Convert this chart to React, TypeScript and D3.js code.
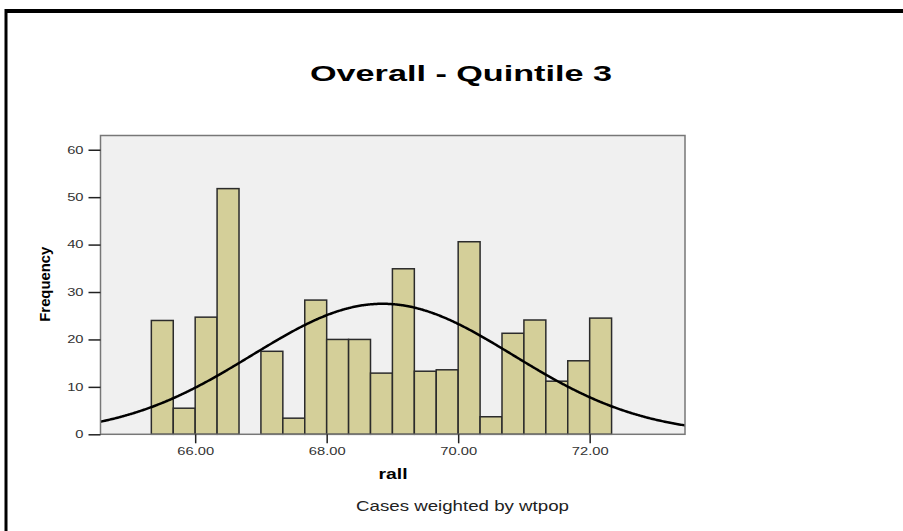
import React, { useEffect, useRef } from 'react';
import * as d3 from 'd3';

// histogram counts, one per bin of width 1/3 starting at 65.33
const frequencies = [24.0, 5.5, 24.7, 51.8, 0, 17.5, 3.4, 28.3, 20.0, 20.0, 12.9, 34.9, 13.3, 13.6, 40.6, 3.7, 21.3, 24.1, 11.2, 15.5, 24.5];
const firstBin = 65 + 1 / 3;
const binWidth = 1 / 3;
const xTicks = [66, 68, 70, 72];
const yTicks = [0, 10, 20, 30, 40, 50, 60];
// fitted normal curve
const curveMean = 68.85;
const curveSd = 1.985;

const App: React.FC = () => {
    const chartRef = useRef<SVGSVGElement>(null);

    useEffect(() => {
        const svg = d3.select(chartRef.current);
        svg.selectAll('*').remove();

        // plot area
        const left = 100.5;
        const right = 685;
        const top = 135.5;
        const bottom = 434.3;

        const xScale = d3.scaleLinear().domain([64.56, 73.45]).range([left, right]);
        const yScale = d3.scaleLinear().domain([0, 63]).range([bottom, top]);

        // outer frame (only top and left visible)
        svg.append('line').attr('x1', 5).attr('x2', 903).attr('y1', 11).attr('y2', 11)
            .attr('stroke', '#000').attr('stroke-width', 4);
        svg.append('line').attr('x1', 6).attr('x2', 6).attr('y1', 9).attr('y2', 531)
            .attr('stroke', '#000').attr('stroke-width', 3);

        // title
        svg.append('text')
            .attr('x', 461).attr('y', 81)
            .attr('text-anchor', 'middle')
            .attr('font-family', 'Liberation Sans, Arial, sans-serif')
            .attr('font-weight', 'bold')
            .attr('font-size', 22)
            .attr('textLength', 302)
            .attr('lengthAdjust', 'spacingAndGlyphs')
            .text('Overall - Quintile 3');

        svg.append('rect')
            .attr('x', left).attr('y', top)
            .attr('width', right - left).attr('height', bottom - top)
            .attr('fill', '#f0f0f0');

        svg.append('clipPath').attr('id', 'plotClip')
            .append('rect').attr('x', left).attr('y', top)
            .attr('width', right - left).attr('height', bottom - top);

        // bars
        const bins = frequencies.map((f, i) => ({ x0: firstBin + i * binWidth, x1: firstBin + (i + 1) * binWidth, f }));
        svg.append('g')
            .selectAll('rect')
            .data(bins.filter((d) => d.f > 0))
            .enter()
            .append('rect')
            .attr('x', (d) => xScale(d.x0))
            .attr('y', (d) => yScale(d.f))
            .attr('width', (d) => xScale(d.x1) - xScale(d.x0))
            .attr('height', (d) => yScale(0) - yScale(d.f))
            .attr('fill', '#d4cf99')
            .attr('stroke', '#2b2b2b')
            .attr('stroke-width', 1.5);

        // normal curve
        const total = d3.sum(frequencies);
        const normal = (v: number) =>
            (total * binWidth) / (curveSd * Math.sqrt(2 * Math.PI)) * Math.exp(-((v - curveMean) ** 2) / (2 * curveSd * curveSd));
        const pts = d3.range(64.5, 73.5, 0.02);
        const line = d3.line<number>().x((v) => xScale(v)).y((v) => yScale(normal(v))).curve(d3.curveBasis);
        svg.append('path')
            .attr('clip-path', 'url(#plotClip)')
            .attr('d', line(pts) || '')
            .attr('fill', 'none')
            .attr('stroke', '#000')
            .attr('stroke-width', 2.5);

        // plot border
        svg.append('rect')
            .attr('x', left).attr('y', top)
            .attr('width', right - left).attr('height', bottom - top)
            .attr('fill', 'none')
            .attr('stroke', '#777')
            .attr('stroke-width', 1.5);

        // axes
        const yAxis = svg.append('g')
            .attr('transform', `translate(${left},0)`)
            .call(d3.axisLeft(yScale).tickValues(yTicks).tickSize(12).tickPadding(5).tickFormat(d3.format('d')));
        const xAxis = svg.append('g')
            .attr('transform', `translate(0,${bottom})`)
            .call(d3.axisBottom(xScale).tickValues(xTicks).tickSize(9).tickPadding(4).tickFormat(d3.format('.2f')));

        [yAxis, xAxis].forEach((ax) => {
            ax.select('.domain').remove();
            ax.selectAll('line').attr('stroke', '#222').attr('stroke-width', 1.5);
            ax.selectAll('text')
                .attr('font-family', 'Liberation Sans, Arial, sans-serif')
                .attr('font-size', 10.5)
                .attr('fill', '#333');
        });

        // the original picture is stretched sideways
        svg.selectAll('.tick text').each(function () {
            const el = this as SVGTextElement;
            const w = el.getComputedTextLength();
            d3.select(el).attr('textLength', w * 1.4).attr('lengthAdjust', 'spacingAndGlyphs');
        });

        // axis titles
        svg.append('text')
            .attr('transform', 'translate(49.5,284.2) rotate(-90)')
            .attr('text-anchor', 'middle')
            .attr('font-family', 'Liberation Sans, Arial, sans-serif')
            .attr('font-weight', 'bold')
            .attr('font-size', 14)
            .attr('textLength', 75)
            .attr('lengthAdjust', 'spacingAndGlyphs')
            .text('Frequency');

        svg.append('text')
            .attr('x', 393).attr('y', 479)
            .attr('text-anchor', 'middle')
            .attr('font-family', 'Liberation Sans, Arial, sans-serif')
            .attr('font-weight', 'bold')
            .attr('font-size', 15)
            .attr('textLength', 29)
            .attr('lengthAdjust', 'spacingAndGlyphs')
            .text('rall');

        svg.append('text')
            .attr('x', 462.5).attr('y', 511)
            .attr('text-anchor', 'middle')
            .attr('font-family', 'Liberation Sans, Arial, sans-serif')
            .attr('font-size', 15)
            .attr('fill', '#222')
            .attr('textLength', 213)
            .attr('lengthAdjust', 'spacingAndGlyphs')
            .text('Cases weighted by wtpop');
    }, []);

    return (
        <svg
            ref={chartRef}
            width={903}
            height={531}
            style={{ position: 'absolute', left: 0, top: 0, background: '#fff' }}
        ></svg>
    );
};

export default App;
